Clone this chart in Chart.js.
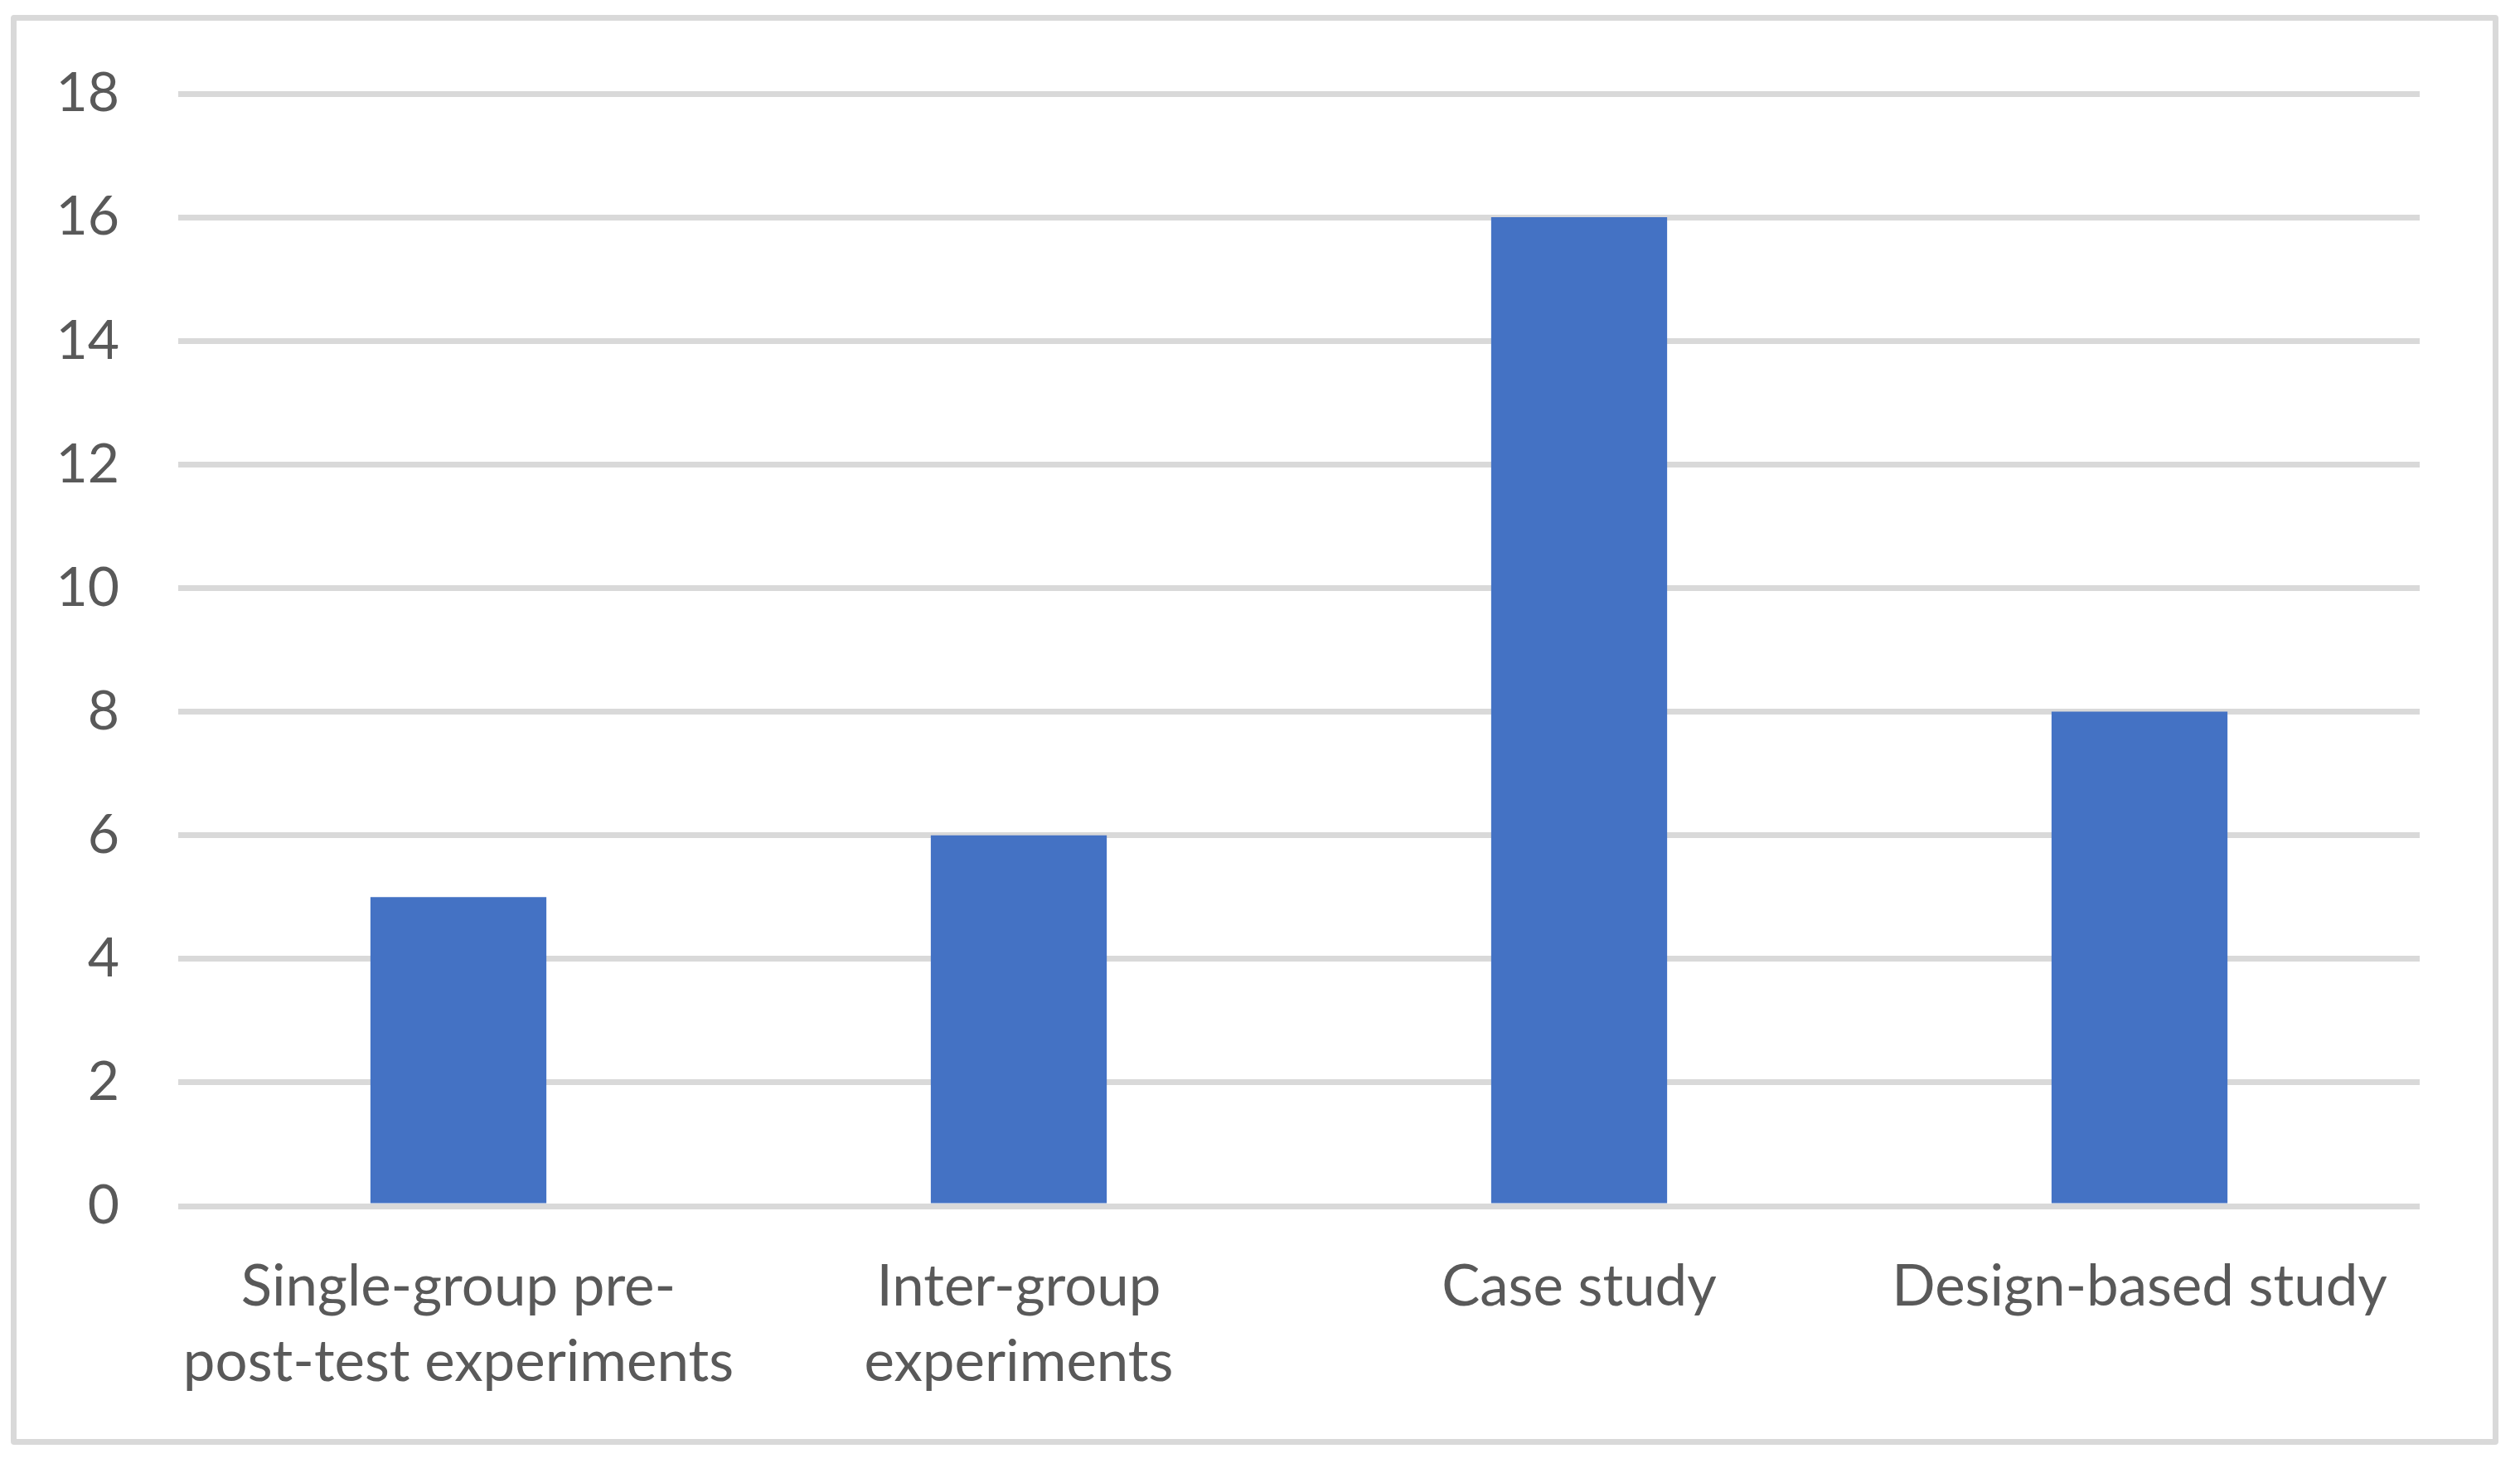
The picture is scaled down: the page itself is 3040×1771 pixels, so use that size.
<!DOCTYPE html>
<html>
<head>
<meta charset="utf-8">
<script src="https://cdn.jsdelivr.net/npm/chart.js@4.4.1/dist/chart.umd.min.js"></script>
<style>
  html, body { margin: 0; padding: 0; background: #ffffff; }
  #wrap { position: relative; width: 3040px; height: 1771px; }
  #frame {
    position: absolute; left: 13px; top: 18px;
    width: 3001px; height: 1725px;
    box-sizing: border-box;
    border: 7px solid #d9d9d9; border-radius: 4px;
  }
  #chart { position: absolute; left: 0; top: 0; }
</style>
</head>
<body>
<div id="wrap">
  <div id="frame"></div>
  <canvas id="chart" width="3040" height="1771"></canvas>
</div>
<script>
// --- Data ---
const categories = [
    ['Single-group pre-', 'post-test experiments'],
    ['Inter-group', 'experiments'],
    'Case study',
    'Design-based study'
];
const studyCounts = [5, 6, 16, 8];
const yTicks = [0, 2, 4, 6, 8, 10, 12, 14, 16, 18];

const textColor = '#595959';
const gridColor = '#d9d9d9';
const barColor = '#4472c4';

const ctx = document.getElementById('chart');

new Chart(ctx, {
    type: 'bar',
    data: {
        labels: categories,
        datasets: [{
            data: studyCounts,
            backgroundColor: barColor,
            borderWidth: 0,
            categoryPercentage: 1,
            barPercentage: 0.314
        }]
    },
    options: {
        responsive: false,
        devicePixelRatio: 1,
        animation: false,
        layout: { padding: { top: 113, right: 121, bottom: 0, left: 0 } },
        plugins: {
            legend: { display: false },
            tooltip: { enabled: false }
        },
        scales: {
            x: {
                grid: { display: false, drawTicks: false },
                border: { display: false },
                ticks: {
                    color: textColor,
                    font: { family: 'Lato', size: 69, lineHeight: 1.32 },
                    padding: 52,
                    maxRotation: 0,
                    autoSkip: false
                },
                afterFit: s => { s.height = 1771 - 1455; }
            },
            y: {
                min: 0,
                max: 18,
                afterBuildTicks: s => { s.ticks = yTicks.map(v => ({ value: v })); },
                grid: { color: gridColor, lineWidth: 7, drawTicks: false },
                border: { display: false },
                ticks: {
                    color: textColor,
                    font: { family: 'Lato', size: 66 },
                    padding: 71
                },
                afterFit: s => { s.width = 215; }
            }
        }
    }
});
</script>
</body>
</html>
